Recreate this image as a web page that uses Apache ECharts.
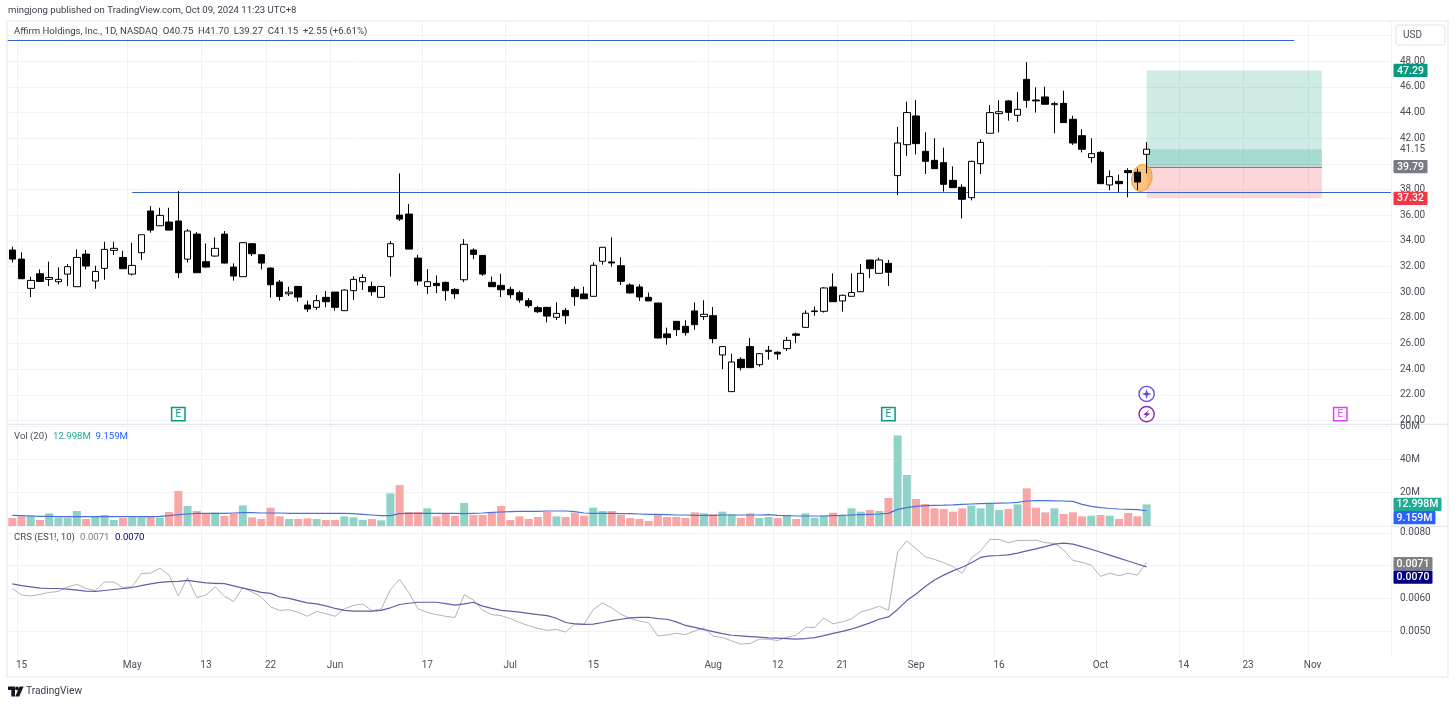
<!DOCTYPE html>
<html><head><meta charset="utf-8">
<style>html,body{margin:0;padding:0;background:#fff}#c{width:1456px;height:705px}</style>
<script src="https://cdn.jsdelivr.net/npm/echarts@6/dist/echarts.min.js"></script>
</head><body><div id="c"></div>
<script>
const opens=[33.29,32.58,30.30,31.44,31.00,30.82,31.41,30.43,32.97,30.87,
31.86,33.26,32.71,31.41,33.08,36.33,35.18,35.47,35.55,32.58,
34.53,32.38,32.82,34.53,31.96,31.21,33.78,32.92,31.88,30.79,
29.88,30.45,29.00,28.82,29.60,30.01,28.56,30.12,30.82,30.45,
29.60,32.77,36.01,36.09,32.66,30.45,30.69,30.77,30.22,30.97,
33.29,32.87,30.77,30.53,30.22,29.96,29.34,28.79,28.82,28.04,
28.58,30.22,29.86,29.68,32.41,32.36,32.07,30.56,30.41,29.60,
29.16,26.75,27.73,27.34,28.54,28.10,28.17,25.11,22.25,24.77,
25.76,24.35,25.39,25.32,25.60,26.75,27.26,28.49,28.51,30.41,
29.32,29.68,30.04,32.51,31.47,32.25,39.09,41.50,43.74,40.98,
40.28,40.10,38.72,38.18,37.37,40.02,42.39,43.92,44.91,43.79,
46.59,44.98,45.22,44.62,44.72,43.48,42.20,40.49,40.90,38.36,
38.64,39.48,39.35,40.75];
const closes=[32.58,31.05,30.92,30.84,31.15,31.00,31.99,32.71,32.04,31.62,
33.34,33.42,31.83,32.09,34.48,34.84,35.99,34.84,31.52,34.77,
31.52,31.96,33.42,32.27,31.26,33.86,33.00,32.27,30.58,29.67,
30.01,29.62,28.69,29.34,29.26,28.82,30.17,31.00,31.15,30.04,
30.45,33.78,35.70,33.36,30.87,30.82,30.51,30.12,29.88,33.73,
32.95,31.41,30.43,30.19,29.80,29.39,28.95,28.48,28.14,28.35,
28.17,29.65,29.49,32.10,33.50,32.28,30.85,29.94,29.63,29.32,
26.43,26.46,27.08,26.85,27.47,28.28,26.38,25.76,24.56,24.12,
24.12,25.21,25.47,25.19,26.25,26.64,28.36,28.54,30.33,29.26,
29.76,29.97,31.47,31.84,32.51,31.55,41.63,44.00,41.58,40.20,
39.63,38.41,38.15,37.24,40.20,41.68,44.00,44.07,44.02,44.26,
44.96,44.91,44.65,44.70,43.22,41.63,41.14,40.80,38.46,39.01,
38.46,39.32,38.59,41.15];
const lows=[32.32,31.05,29.62,30.84,30.48,30.61,30.48,30.43,31.78,30.27,
30.97,32.90,31.83,31.31,32.51,34.64,35.18,34.84,31.10,32.32,
31.52,31.91,32.77,32.25,30.90,31.21,32.82,31.78,29.57,29.34,
29.70,29.26,28.45,28.63,28.82,28.56,28.56,29.39,30.17,29.73,
29.57,31.21,35.55,33.36,30.53,29.86,29.93,29.34,29.49,30.79,
32.58,31.28,30.43,29.62,29.52,29.18,28.79,28.38,27.65,27.83,
27.52,28.95,29.47,29.68,32.15,31.99,30.56,29.91,29.32,29.32,
26.41,25.91,26.59,26.62,27.08,27.84,26.02,23.99,22.25,23.91,
24.12,24.20,24.74,24.74,25.42,26.02,27.26,28.17,28.41,29.26,
28.49,29.68,30.04,31.11,31.47,30.49,37.58,40.62,40.75,39.22,
39.63,37.84,38.15,35.76,37.16,39.22,42.39,42.46,43.37,43.27,
44.39,44.00,44.65,42.39,43.22,41.48,40.90,40.10,38.46,37.94,
37.79,37.40,37.97,39.27];
const highs=[33.55,33.10,31.21,31.78,32.38,31.93,32.19,33.34,33.29,32.06,
33.93,33.93,33.23,33.86,34.48,36.71,36.58,36.58,37.88,34.92,
34.69,33.80,34.27,34.77,32.25,33.88,33.80,32.95,31.93,30.95,
30.43,30.48,29.34,29.78,30.09,30.01,30.22,31.23,31.39,30.82,
30.48,33.99,39.26,36.87,32.92,31.80,31.31,30.82,30.32,34.14,
33.42,32.87,31.23,31.44,30.43,30.12,29.54,28.92,28.84,29.21,
28.76,30.45,30.43,32.33,33.50,34.28,32.72,30.69,30.62,29.97,
29.16,27.24,27.73,27.81,29.21,29.37,28.85,25.81,25.21,24.93,
26.43,25.24,25.81,25.39,26.51,26.85,28.59,28.88,30.38,31.47,
29.81,31.47,32.20,32.51,32.69,32.51,42.88,44.85,44.98,42.46,
42.00,41.27,39.81,38.41,40.25,41.92,44.59,44.96,44.98,45.61,
47.94,45.97,46.02,44.85,45.71,43.76,42.70,42.00,41.01,39.50,
39.16,39.66,39.63,41.70];
const volumes=[4.8,5.8,6.2,3.6,7.6,5.0,5.0,9.0,4.2,5.8,
6.6,3.6,4.8,5.2,5.2,5.4,5.0,8.4,21.0,12.0,
9.0,7.8,8.0,6.0,7.4,12.4,5.2,4.2,11.0,5.8,
4.2,4.2,4.6,4.2,3.6,3.6,5.8,5.2,3.6,4.2,
3.4,19.6,24.6,8.4,8.4,10.6,5.8,7.4,6.2,13.8,
6.6,6.6,8.0,12.0,3.6,5.8,4.2,5.4,8.4,5.8,
5.4,8.0,6.2,11.0,9.0,9.0,6.6,4.8,4.2,3.0,
7.0,5.4,5.4,4.8,8.2,7.6,7.0,8.6,7.0,4.8,
7.6,4.8,5.4,4.8,6.2,4.2,7.6,5.0,6.2,8.0,
6.2,10.6,8.6,9.6,9.0,16.8,54.4,30.6,16.2,13.2,
10.6,10.2,8.6,10.6,12.2,10.6,13.2,9.6,10.2,13.0,
22.6,11.0,8.2,10.6,7.2,8.2,5.8,6.2,6.6,6.2,
4.2,7.8,5.8,12.998];
const volumeMA=[6.4,6.2,6.0,5.8,5.8,5.6,5.6,5.6,5.6,5.6,
5.6,5.6,5.6,5.6,5.6,5.6,5.8,6.2,6.8,7.2,
7.6,7.6,7.6,7.6,7.8,8.0,8.0,7.8,7.8,7.8,
7.6,7.6,7.6,7.6,7.6,7.6,7.6,7.4,7.0,6.6,
6.2,6.2,7.4,7.6,7.6,7.6,7.6,7.6,7.6,7.4,
7.6,7.8,8.2,8.4,8.6,8.8,8.8,8.8,9.0,9.0,
9.0,8.6,7.8,7.6,7.6,7.6,7.4,7.4,7.2,7.0,
7.0,6.8,6.6,6.6,6.4,6.4,6.4,6.6,6.6,6.6,
6.6,6.6,6.8,6.4,6.2,6.0,6.0,6.0,6.0,6.2,
6.4,6.6,6.8,7.0,7.2,7.6,10.0,11.0,11.8,12.2,
12.4,12.5,12.7,13.0,13.2,13.4,13.6,13.7,13.8,14.2,
15.0,15.2,15.2,15.1,15.0,14.8,13.0,11.8,11.0,10.5,
10.2,10.0,9.8,9.159];
const crsValues=[6.30,6.10,6.07,6.12,6.18,6.21,6.35,6.43,6.30,6.24,
6.50,6.50,6.33,6.36,6.76,6.77,6.92,6.71,6.07,6.63,
6.02,6.10,6.35,6.07,5.90,6.33,6.19,6.04,5.74,5.63,
5.65,5.57,5.45,5.60,5.53,5.45,5.68,5.78,5.83,5.62,
5.67,6.27,6.58,6.17,5.68,5.57,5.50,5.45,5.41,6.11,
5.95,5.63,5.50,5.47,5.38,5.26,5.16,5.08,5.02,5.05,
4.97,5.22,5.21,5.66,5.86,5.71,5.51,5.39,5.30,5.25,
4.85,4.88,4.93,4.89,5.00,5.10,4.84,4.80,4.70,4.60,
4.62,4.75,4.75,4.71,4.81,4.87,5.11,5.11,5.40,5.22,
5.28,5.37,5.58,5.66,5.76,5.63,7.42,7.76,7.52,7.27,
7.19,7.09,6.97,6.76,7.24,7.45,7.80,7.80,7.70,7.77,
7.77,7.78,7.70,7.68,7.48,7.16,7.10,7.01,6.67,6.77,
6.69,6.77,6.71,7.10];
const crsAverage=[6.44,6.39,6.35,6.31,6.30,6.30,6.28,6.25,6.22,6.21,
6.24,6.27,6.30,6.33,6.39,6.44,6.49,6.51,6.52,6.55,
6.51,6.47,6.46,6.45,6.38,6.31,6.25,6.18,6.15,6.04,
6.00,5.93,5.86,5.83,5.77,5.69,5.63,5.61,5.61,5.61,
5.63,5.71,5.81,5.85,5.88,5.88,5.88,5.84,5.79,5.83,
5.88,5.76,5.69,5.63,5.61,5.58,5.54,5.50,5.47,5.39,
5.26,5.22,5.20,5.21,5.26,5.32,5.36,5.40,5.42,5.42,
5.38,5.36,5.28,5.17,5.11,5.04,4.98,4.92,4.87,4.85,
4.83,4.81,4.79,4.78,4.77,4.75,4.77,4.80,4.86,4.93,
4.99,5.06,5.15,5.25,5.36,5.43,5.66,5.93,6.13,6.36,
6.56,6.71,6.84,6.95,7.09,7.25,7.30,7.31,7.33,7.38,
7.45,7.51,7.58,7.66,7.69,7.66,7.58,7.50,7.41,7.32,
7.23,7.14,7.05,6.96];
const crsScale=0.001;
const tickIndex=[1,13,21,28,35,45,54,63,76,83,90,98,107,118,127,134,141];
const tickLabels=['15','May','13','22','Jun','17','Jul','15','Aug','12','21','Sep','16','Oct','14','23','Nov'];
const barCount=150;
const priceTarget=47.29, priceEntry=39.79, priceStop=37.32, priceLast=41.15;
const positionStart=123, positionEnd=142;
const resistanceLevel=37.79, resistanceFrom=13;
const topLevel=49.66, topLineEnd=139;
const earningsIndex=[18,95,144];
const earningsColors=['#089981','#089981','#e040fb'];

const FONT='Roboto, sans-serif';
const TXT='#4a4e59', GRID='#f0f2f6', BORDER='#e0e3eb';
const categories=Array.from({length:barCount},(_,i)=>String(i));
const tickSet=new Map(tickIndex.map((t,i)=>[t,tickLabels[i]]));

const L=7.7, R=1391, W=R-L;
const mainTop=22.8, mainBottom=420.5, volTop=424, volBottom=526, crsTop=526.4, crsBottom=663.7, allBottom=657;

const xHidden=g=>({type:'category',gridIndex:g,data:categories,show:false,boundaryGap:true});
const yCommon=(g,o)=>Object.assign({type:'value',gridIndex:g,position:'right',scale:false,
  axisLine:{show:false},axisTick:{show:false},
  splitLine:{show:true,lineStyle:{color:GRID,width:1}}},o);

function tagSeries(xi,yi,values,texts,colors,widths,push){
  return {type:'custom',xAxisIndex:xi,yAxisIndex:yi,z:20,silent:true,clip:false,
    data:values.map(v=>[0,v]),
    renderItem(p,api){
      const i=p.dataIndex, y=api.coord([0,api.value(1)])[1]+(push?push[i]:0);
      const x=p.coordSys.x+p.coordSys.width+2.5;
      return {type:'group',children:[
        {type:'rect',shape:{x,y:y-6.6,width:widths[i],height:13.2,r:1},style:{fill:colors[i]}},
        {type:'text',style:{text:texts[i],x:x+widths[i]/2,y:y+.5,fill:'#fff',font:'500 10.5px '+FONT,align:'center',verticalAlign:'middle'}}
      ]};
    }};
}

const series=[
 {type:'custom',xAxisIndex:0,yAxisIndex:0,z:1,silent:true,clip:false,
  data:[[positionStart,priceEntry,positionEnd,priceTarget],
        [positionStart,priceEntry,positionEnd,priceLast],
        [positionStart,priceStop,positionEnd,priceEntry]],
  renderItem(p,api){
    const a=api.coord([api.value(0),api.value(1)]), b=api.coord([api.value(2),api.value(3)]);
    return {type:'rect',shape:{x:a[0],y:Math.min(a[1],b[1]),width:b[0]-a[0],height:Math.abs(b[1]-a[1])},
      style:{fill:['rgba(8,153,129,.2)','rgba(8,153,129,.2)','rgba(242,54,69,.2)'][p.dataIndex]}};
  }},
 {type:'custom',xAxisIndex:0,yAxisIndex:0,z:2,silent:true,clip:false,
  data:[[positionStart,priceEntry,positionEnd],[resistanceFrom,resistanceLevel,barCount-1],[0,topLevel,topLineEnd]],
  renderItem(p,api){
    const i=p.dataIndex,a=api.coord([api.value(0),api.value(1)]),b=api.coord([api.value(2),api.value(1)]);
    const half=api.size([1,0])[0]/2;
    const x0=i===2?a[0]-half:a[0], x1=i===1?b[0]+half:b[0];
    const y=Math.round(a[1])+.5;
    return {type:'line',shape:{x1:x0,y1:y,x2:x1,y2:y},
      style:{stroke:i===0?'#787b86':'#3462d0',lineWidth:1.2}};
  }},
 {type:'custom',xAxisIndex:0,yAxisIndex:0,z:3,silent:true,clip:false,
  data:[[122,38.9]],
  renderItem(p,api){
    const c=api.coord([api.value(0),api.value(1)]);
    return {type:'ellipse',shape:{cx:0,cy:0,rx:13.6,ry:10},x:c[0]+4.5,y:c[1],rotation:Math.PI/2-0.2,
      style:{fill:'rgba(245,158,50,.62)',stroke:'#f3a13c',lineWidth:1}};
  }},
 {type:'candlestick',xAxisIndex:0,yAxisIndex:0,z:5,barWidth:7,silent:true,clip:false,
  data:opens.map((o,i)=>[o,closes[i],lows[i],highs[i]]),
  itemStyle:{color:'#ffffff',color0:'#000000',borderColor:'#000000',borderColor0:'#000000',borderWidth:1}},
 {type:'custom',xAxisIndex:0,yAxisIndex:0,z:6,silent:true,clip:false,
  data:earningsIndex.map(i=>[i,20.5]),
  renderItem(p,api){
    const c=api.coord([api.value(0),api.value(1)]), col=earningsColors[p.dataIndex];
    return {type:'group',children:[
      {type:'rect',shape:{x:c[0]-6.7,y:c[1]-6.7,width:13.4,height:13.4},style:{fill:'#fff',stroke:col,lineWidth:1.5}},
      {type:'text',style:{text:'E',x:c[0],y:c[1]+.5,fill:col,font:'10px '+FONT,align:'center',verticalAlign:'middle'}}
    ]};
  }},
 {type:'custom',xAxisIndex:0,yAxisIndex:0,z:6,silent:true,clip:false,
  data:[[123,22.07],[123,20.5]],
  renderItem(p,api){
    const c=api.coord([api.value(0),api.value(1)]), x=c[0], y=c[1];
    if(p.dataIndex===0){
      return {type:'group',children:[
        {type:'circle',shape:{cx:x,cy:y,r:7.6},style:{fill:'#fff',stroke:'#6a4de0',lineWidth:1.4}},
        {type:'polygon',shape:{points:[[x,y-5],[x+1.2,y-1.2],[x+5,y],[x+1.2,y+1.2],[x,y+5],[x-1.2,y+1.2],[x-5,y],[x-1.2,y-1.2]]},style:{fill:'#6a4de0'}}
      ]};
    }
    return {type:'group',children:[
      {type:'circle',shape:{cx:x,cy:y,r:7.6},style:{fill:'#fff',stroke:'#8e24aa',lineWidth:1.4}},
      {type:'polygon',shape:{points:[[x+2.6,y-4.6],[x-3.4,y+.8],[x-.4,y+.8],[x-2.6,y+4.6],[x+3.4,y-.8],[x+.4,y-.8]]},style:{fill:'#8e24aa'}}
    ]};
  }},
 tagSeries(0,0,[priceTarget,priceEntry,priceStop],['47.29','39.79','37.32'],['#089981','#787b86','#f23645'],[34,34,34],[0,0,0]),
 {type:'custom',xAxisIndex:0,yAxisIndex:0,z:20,silent:true,clip:false,data:[[0,priceLast]],
  renderItem(p,api){
    const y=api.coord([0,api.value(1)])[1];
    return {type:'text',style:{text:'41.15',x:p.coordSys.x+p.coordSys.width+9,y:y,fill:TXT,font:'10px '+FONT,align:'left',verticalAlign:'middle'}};
  }},
 {type:'bar',xAxisIndex:1,yAxisIndex:1,z:3,barWidth:8,silent:true,
  data:volumes.map((v,i)=>({value:v,itemStyle:{color:closes[i]>=opens[i]?'#8fd2c8':'#f9a6a6'}}))},
 {type:'line',xAxisIndex:1,yAxisIndex:1,z:4,silent:true,data:volumeMA,showSymbol:false,symbol:'none',
  lineStyle:{color:'#4a72d6',width:1.2}},
 tagSeries(1,1,[12.998,9.159],['12.998M','9.159M'],['#22ab94','#2962ff'],[48,42],[0,6.8]),
 {type:'line',xAxisIndex:2,yAxisIndex:2,z:3,silent:true,data:crsValues.map(v=>+(v*crsScale).toFixed(5)),showSymbol:false,symbol:'none',
  lineStyle:{color:'#b4b4b4',width:1}},
 {type:'line',xAxisIndex:2,yAxisIndex:2,z:4,silent:true,data:crsAverage.map(v=>+(v*crsScale).toFixed(5)),showSymbol:false,symbol:'none',
  lineStyle:{color:'#5f5fa8',width:1.2}},
 tagSeries(2,2,[0.0071,0.0070],['0.0071','0.0070'],['#808080','#000080'],[39,39],[1.2,11.4])
];

const txt=(x,y,text,fill,size)=>({type:'text',x,y,z:50,silent:true,style:{text,fill,font:(size||9.6)+'px '+FONT,verticalAlign:'middle'}});
const logo=[
 {type:'polygon',silent:true,shape:{points:[[8,686.5],[15,686.5],[15,696.5],[11.3,696.5],[11.3,690],[8,690]]},style:{fill:'#131722'}},
 {type:'circle',silent:true,shape:{cx:17,cy:688.4,r:1.9},style:{fill:'#131722'}},
 {type:'polygon',silent:true,shape:{points:[[19.6,686.5],[23.6,686.5],[19.2,696.5],[15.2,696.5]]},style:{fill:'#131722'}}
];
const axisFont={color:TXT,fontFamily:FONT,fontSize:10,margin:9,align:'left'};

const option={
 animation:false,backgroundColor:'#fff',
 grid:[
  {left:L,width:W,top:mainTop,height:mainBottom-mainTop},
  {left:L,width:W,top:volTop,height:volBottom-volTop},
  {left:L,width:W,top:crsTop,height:crsBottom-crsTop},
  {left:L,width:W,top:22,height:allBottom-22}
 ],
 xAxis:[xHidden(0),xHidden(1),xHidden(2),
  {type:'category',gridIndex:3,data:categories,boundaryGap:true,
   axisLine:{show:false},axisTick:{show:false,alignWithLabel:true},
   splitLine:{show:true,interval:(i)=>tickSet.has(i),lineStyle:{color:GRID,width:1}},
   axisLabel:{show:true,interval:(i)=>tickSet.has(i),formatter:(v,i)=>tickSet.get(+v)||'',color:TXT,fontFamily:FONT,fontSize:10,margin:3,hideOverlap:false}}
 ],
 yAxis:[
  yCommon(0,{min:20,max:51,interval:2,axisLabel:Object.assign({},axisFont,{showMaxLabel:false,
    formatter:v=>(v>48||v===40)?'':v.toFixed(2)}),splitLine:{show:true,showMaxLine:false,lineStyle:{color:GRID}}}),
  yCommon(1,{min:0,max:61.26,interval:20,axisLabel:Object.assign({},axisFont,{showMinLabel:false,showMaxLabel:false,
    formatter:v=>(v%20===0&&v>0)?v+'M':''}),splitLine:{show:true,showMaxLine:false,lineStyle:{color:GRID}}}),
  yCommon(2,{min:0.004,max:0.0082,interval:0.001,axisLabel:Object.assign({},axisFont,{
    formatter:v=>{const r=Math.round(v*1e4)/1e4;return (r===0.005||r===0.006||r===0.008)?r.toFixed(4):'';}}),
    splitLine:{show:true,showMinLine:false,showMaxLine:false,lineStyle:{color:GRID}}}),
  {type:'value',gridIndex:3,show:false,min:0,max:1,splitLine:{show:false}}
 ],
 series,
 graphic:{elements:[
  {type:'rect',silent:true,z:-1,shape:{x:7,y:21,width:1441,height:656},style:{fill:'none',stroke:'#eceef2',lineWidth:1.5}},
  {type:'line',silent:true,shape:{x1:7,y1:424.3,x2:1448,y2:424.3},style:{stroke:BORDER,lineWidth:1}},
  {type:'line',silent:true,shape:{x1:7,y1:526.3,x2:1448,y2:526.3},style:{stroke:BORDER,lineWidth:1}},
  txt(8,10.5,'mingjong published on TradingView.com, Oct 09, 2024 11:23 UTC+8','#3a3e4a'),
  txt(14,32,'Affirm Holdings, Inc., 1D, NASDAQ  O40.75  H41.70  L39.27  C41.15  +2.55 (+6.61%)','#3a3e4a'),
  {type:'rect',silent:true,shape:{x:1396,y:25,width:49,height:20,r:3},style:{fill:'#fff',stroke:BORDER,lineWidth:1}},
  txt(1403,35.5,'USD','#4a4e59',10),
  txt(14,436.5,'Vol (20)','#4a4e59'),
  txt(53,436.5,'12.998M','#22ab94'),
  txt(95.5,436.5,'9.159M','#2962ff'),
  txt(14,538,'CRS (ES1!, 10)','#4a4e59'),
  txt(80,538,'0.0071','#808080'),
  txt(115,538,'0.0070','#000080'),
  ...logo,
  txt(26,691,'TradingView','#3a3e4a',10.2)
 ]}
};
const chart=echarts.init(document.getElementById('c'),null,{renderer:'canvas',width:1456,height:705});
chart.setOption(option);
</script></body></html>
